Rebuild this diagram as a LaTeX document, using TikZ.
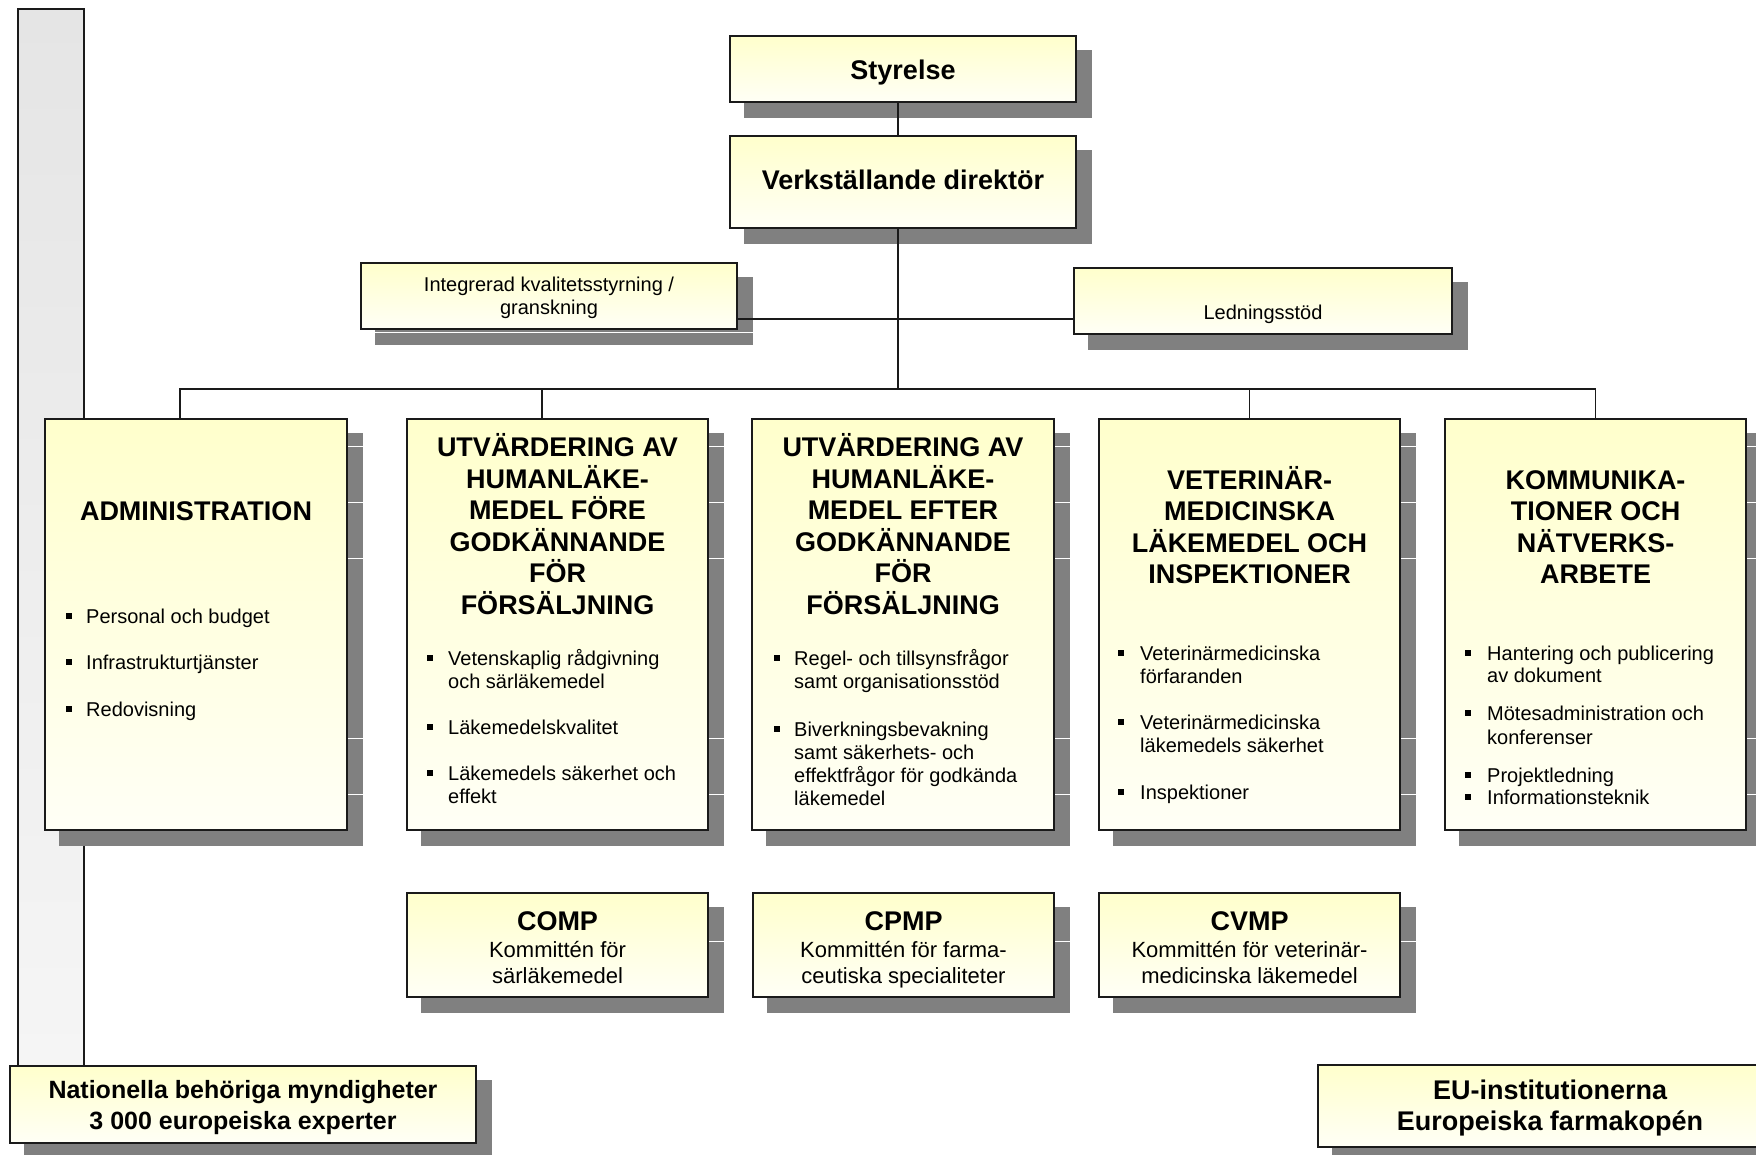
\documentclass[tikz,border=0pt]{standalone}
\usepackage{fontspec}
\setmainfont{Liberation Sans}
\usetikzlibrary{calc}
\pgfdeclarelayer{background}
\pgfsetlayers{background,main}
\definecolor{boxtop}{RGB}{255,255,204}
\definecolor{boxbot}{RGB}{255,255,246}
\definecolor{shadowc}{RGB}{128,128,128}
\definecolor{bartop}{RGB}{229,229,229}
\definecolor{barbot}{RGB}{245,245,245}
\definecolor{edge}{RGB}{26,26,26}
\newcommand\bulsq[2]{\fill[black] (#1,#2) ++(-2.75,-2.75) rectangle ++(5.5,5.5);}
\begin{document}
\begin{tikzpicture}[x=1pt,y=-1pt,
  box/.style={draw=edge, line width=1.4pt, top color=boxtop, bottom color=boxbot, rectangle, inner sep=0pt, align=center},
  bigbox/.style={box, minimum width=301pt, minimum height=411pt},
  cbox/.style={box, minimum width=301pt, minimum height=104pt},
  conn/.style={draw=edge, line width=1.4pt},
  ttl/.style={font=\fontsize{27}{32}\selectfont\bfseries, inner sep=0pt, anchor=base},
  itm/.style={font=\fontsize{20}{23}\selectfont, inner sep=0pt, anchor=base west},
  sub/.style={font=\fontsize{22}{26}\selectfont, inner sep=0pt, anchor=base},
  nat/.style={font=\fontsize{25}{29}\selectfont\bfseries, inner sep=0pt, anchor=base},
]
\useasboundingbox (0,0) rectangle (1756,1155);

% ---------- top boxes ----------
\node[box, minimum width=346pt, minimum height=66pt] (sty) at (903,69) {};
\node[ttl] (styt) at (903,79.5) {Styrelse};
\node[box, minimum width=346pt, minimum height=92pt] (vd) at (903,182) {};
\node[ttl] (vdt) at (903,189.5) {Verkställande direktör};
\node[box, minimum width=376pt, minimum height=66pt] (int) at (549,296) {};
\node[itm, anchor=base] (intt1) at (549,292) {Integrerad kvalitetsstyrning /};
\node[itm, anchor=base] (intt2) at (549,315) {granskning};
\node[box, minimum width=378pt, minimum height=66pt] (led) at (1263,301) {};
\node[itm, anchor=base] (ledt) at (1263,320) {Ledningsstöd};

% ---------- main department boxes ----------
\node[bigbox, minimum width=302pt] (adm) at (196,624.5) {};
\node[bigbox] (ua) at (557.5,624.5) {};
\node[bigbox, minimum width=302pt] (ub) at (903,624.5) {};
\node[bigbox] (vet) at (1249.5,624.5) {};
\node[bigbox] (kom) at (1595.5,624.5) {};

% titles
\node[ttl] (admt) at (196,520) {ADMINISTRATION};
\foreach \t [count=\i from 0] in {UTVÄRDERING AV, HUMANLÄKE-, MEDEL FÖRE, GODKÄNNANDE, FÖR, FÖRSÄLJNING}
  \node[ttl] (uat\i) at (557.5,{456.5+31.6*\i}) {\t};
\foreach \t [count=\i from 0] in {UTVÄRDERING AV, HUMANLÄKE-, MEDEL EFTER, GODKÄNNANDE, FÖR, FÖRSÄLJNING}
  \node[ttl] (ubt\i) at (903,{456.5+31.6*\i}) {\t};
\foreach \t [count=\i from 0] in {VETERINÄR-, MEDICINSKA, LÄKEMEDEL OCH, INSPEKTIONER}
  \node[ttl] (vett\i) at (1249.5,{489.5+31.3*\i}) {\t};
\foreach \t [count=\i from 0] in {KOMMUNIKA-, TIONER OCH, NÄTVERKS-, ARBETE}
  \node[ttl] (komt\i) at (1595.5,{489.5+31.3*\i}) {\t};

% bullets: ADMINISTRATION
\bulsq{69}{616}\node[itm] (a1) at (86,623) {Personal och budget};
\bulsq{69}{662}\node[itm] (a2) at (86,669) {Infrastrukturtjänster};
\bulsq{69}{709}\node[itm] (a3) at (86,716) {Redovisning};
% bullets: UTV 1
\bulsq{430}{658}\node[itm] (b1) at (448,665) {Vetenskaplig rådgivning};
\node[itm] (b1b) at (448,688) {och särläkemedel};
\bulsq{430}{727}\node[itm] (b2) at (448,734) {Läkemedelskvalitet};
\bulsq{430}{773}\node[itm] (b3) at (448,780) {Läkemedels säkerhet och};
\node[itm] (b3b) at (448,803) {effekt};
% bullets: UTV 2
\bulsq{777}{658}\node[itm] (c1) at (794,665) {Regel- och tillsynsfrågor};
\node[itm] (c1b) at (794,688) {samt organisationsstöd};
\bulsq{777}{729}\node[itm] (c2) at (794,736) {Biverkningsbevakning};
\node[itm] (c2b) at (794,759) {samt säkerhets- och};
\node[itm] (c2c) at (794,782) {effektfrågor för godkända};
\node[itm] (c2d) at (794,805) {läkemedel};
% bullets: VET
\bulsq{1121}{653}\node[itm] (d1) at (1140,660) {Veterinärmedicinska};
\node[itm] (d1b) at (1140,683) {förfaranden};
\bulsq{1121}{722}\node[itm] (d2) at (1140,729) {Veterinärmedicinska};
\node[itm] (d2b) at (1140,752) {läkemedels säkerhet};
\bulsq{1121}{792}\node[itm] (d3) at (1140,799) {Inspektioner};
% bullets: KOMM
\bulsq{1468}{653}\node[itm] (e1) at (1487,660) {Hantering och publicering};
\node[itm] (e1b) at (1487,682) {av dokument};
\bulsq{1468}{713}\node[itm] (e2) at (1487,720) {Mötesadministration och};
\node[itm] (e2b) at (1487,744) {konferenser};
\bulsq{1468}{775}\node[itm] (e3) at (1487,782) {Projektledning};
\bulsq{1468}{797}\node[itm] (e4) at (1487,804) {Informationsteknik};

% ---------- committees ----------
\node[cbox] (comp) at (557.5,945) {};
\node[cbox] (cpmp) at (903.5,945) {};
\node[cbox] (cvmp) at (1249.5,945) {};
\node[ttl] (compt) at (557.5,930) {COMP};
\node[sub] (comp1) at (557.5,957) {Kommittén för};
\node[sub] (comp2) at (557.5,983) {särläkemedel};
\node[ttl] (cpmpt) at (903.5,930) {CPMP};
\node[sub] (cpmp1) at (903.5,957) {Kommittén för farma-};
\node[sub] (cpmp2) at (903.5,983) {ceutiska specialiteter};
\node[ttl] (cvmpt) at (1249.5,930) {CVMP};
\node[sub] (cvmp1) at (1249.5,957) {Kommittén för veterinär-};
\node[sub] (cvmp2) at (1249.5,983) {medicinska läkemedel};

% ---------- bottom boxes ----------
\node[box, minimum width=466pt, minimum height=77pt] (nat) at (243,1104.5) {};
\node[nat] (nat1) at (243,1098.5) {Nationella behöriga myndigheter};
\node[nat] (nat2) at (243,1129) {3 000 europeiska experter};
\node[box, minimum width=464pt, minimum height=82pt] (eu) at (1550,1106) {};
\node[ttl] (eu1) at (1550,1099) {EU-institutionerna};
\node[ttl] (eu2) at (1550,1130) {Europeiska farmakopén};

% ---------- connectors ----------
\coordinate (bus) at (898,389);
\coordinate (hl) at (898,319);
\coordinate (admtop) at ([xshift=-16pt]adm.north);
\coordinate (uatop) at ([xshift=-15.5pt]ua.north);
\draw[conn] ([xshift=-5pt]sty.south) -- ([xshift=-5pt]vd.north);
\draw[conn] ([xshift=-5pt]vd.south) -- (bus);
\draw[conn] (int.east |- hl) -- (led.west |- hl);
\draw[conn] (admtop) |- (bus) -| (kom.north);
\draw[conn] (uatop) -- (uatop |- bus);
\draw[conn] (vet.north) -- (vet.north |- bus);

% ---------- background: bar, shadows, stripes ----------
\begin{pgfonlayer}{background}
  \path[draw=edge, line width=1.3pt, top color=bartop, bottom color=barbot] (18,9) rectangle (84,1066);
  \foreach \n in {sty,vd,int,led,adm,ua,ub,vet,kom,comp,cpmp,cvmp,nat,eu}
    \fill[shadowc] ([shift={(15,15)}]\n.north west) rectangle ([shift={(15,15)}]\n.south east);
  \foreach \n in {adm,ua,ub,vet,kom}
    \foreach \o in {28,84,140,320,376}
      \draw[white, line width=1.2pt] ([shift={(15,\o)}]\n.north west) -- ([shift={(15,\o)}]\n.north east);
  \foreach \n in {comp,cpmp,cvmp}
    \draw[white, line width=1.2pt] ([shift={(15,49)}]\n.north west) -- ([shift={(15,49)}]\n.north east);
  \draw[white, line width=1.2pt] ([shift={(15,70)}]int.north west) -- ([shift={(15,70)}]int.north east);
\end{pgfonlayer}
\end{tikzpicture}
\end{document}
